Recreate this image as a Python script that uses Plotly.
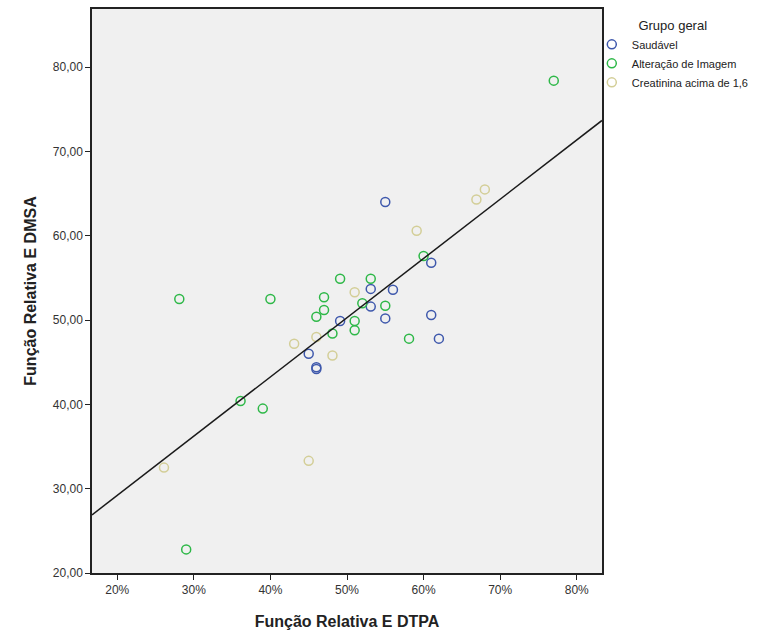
import numpy as np
import plotly.graph_objects as go

groups = ["Saudável", "Alteração de Imagem", "Creatinina acima de 1,6"]
colors = ["#3E58AC", "#2EB848", "#D3CE97"]

# Saudável
saud_x = [55.0, 61.0, 53.1, 56.0, 53.1, 49.1, 55.0, 61.0, 62.0, 45.0, 46.0, 46.0]
saud_y = [64.0, 56.8, 53.7, 53.6, 51.6, 49.9, 50.2, 50.6, 47.8, 46.0, 44.4, 44.2]
# Alteração de Imagem
alt_x = [77.0, 60.0, 49.1, 53.1, 28.1, 40.0, 47.0, 47.0, 52.0, 55.0, 46.0, 51.0, 51.0, 48.1, 58.1, 36.1, 39.0, 29.0]
alt_y = [78.4, 57.6, 54.9, 54.9, 52.5, 52.5, 52.7, 51.2, 52.0, 51.7, 50.4, 49.9, 48.8, 48.4, 47.8, 40.4, 39.5, 22.8]
# Creatinina acima de 1,6
cre_x = [68.0, 66.9, 59.1, 51.0, 46.0, 43.1, 48.1, 26.1, 45.0]
cre_y = [65.5, 64.3, 60.6, 53.3, 48.0, 47.2, 45.8, 32.5, 33.3]

x_ticks = [20, 30, 40, 50, 60, 70, 80]
x_ticklabels = ["20%", "30%", "40%", "50%", "60%", "70%", "80%"]
y_ticks = [20, 30, 40, 50, 60, 70, 80]

x_range = [16.7, 83.3]
y_range = [20.0, 86.9]

fig = go.Figure()
for name, xs, ys, c in zip(groups, [saud_x, alt_x, cre_x], [saud_y, alt_y, cre_y], colors):
    fig.add_trace(go.Scatter(
        x=xs, y=ys, mode="markers", name=name,
        marker=dict(symbol="circle-open", size=9, color=c, line=dict(width=1.5, color=c)),
    ))

all_x = np.array(saud_x + alt_x + cre_x)
all_y = np.array(saud_y + alt_y + cre_y)
slope, intercept = np.polyfit(all_x, all_y, 1)
lx = np.array(x_range)
fig.add_trace(go.Scatter(
    x=lx, y=intercept + slope * lx, mode="lines", showlegend=False,
    line=dict(color="#1a1a1a", width=1.5), hoverinfo="skip",
))

fig.update_layout(
    width=768, height=633,
    margin=dict(l=92, r=166, t=9, b=60, autoexpand=False),
    paper_bgcolor="white", plot_bgcolor="#F0F0F0",
    separators=",.",
    font=dict(family="Liberation Sans, Arial", size=12, color="#222"),
    showlegend=True,
    legend=dict(
        x=0.98, y=0.993, xanchor="left", yanchor="top",
        bgcolor="rgba(0,0,0,0)",
        font=dict(size=11, color="#222"),
        title=dict(text="Grupo geral", side="top center", font=dict(size=13, color="#222")),
        itemwidth=30, tracegroupgap=0,
    ),
    xaxis=dict(
        range=x_range, tickmode="array", tickvals=x_ticks, ticktext=x_ticklabels,
        showgrid=False, zeroline=False, showline=True, linecolor="#222", linewidth=1.5,
        mirror=True, ticks="outside", ticklen=5, tickcolor="#222", automargin=False,
        tickfont=dict(size=12, color="#333"),
        title=dict(text="<b>Função Relativa E DTPA</b>", font=dict(size=16, color="#222"), standoff=20),
    ),
    yaxis=dict(
        range=y_range, tickmode="array", tickvals=y_ticks, tickformat=".2f",
        showgrid=False, zeroline=False, showline=True, linecolor="#222", linewidth=1.5,
        mirror=True, ticks="outside", ticklen=5, tickcolor="#222", automargin=False,
        tickfont=dict(size=12, color="#333"),
        title=dict(text="<b>Função Relativa E DMSA</b>", font=dict(size=16, color="#222"), standoff=12),
    ),
)

fig.write_html("out.html", config={"displayModeBar": False},
               post_script="document.body.style.margin='0px';")
